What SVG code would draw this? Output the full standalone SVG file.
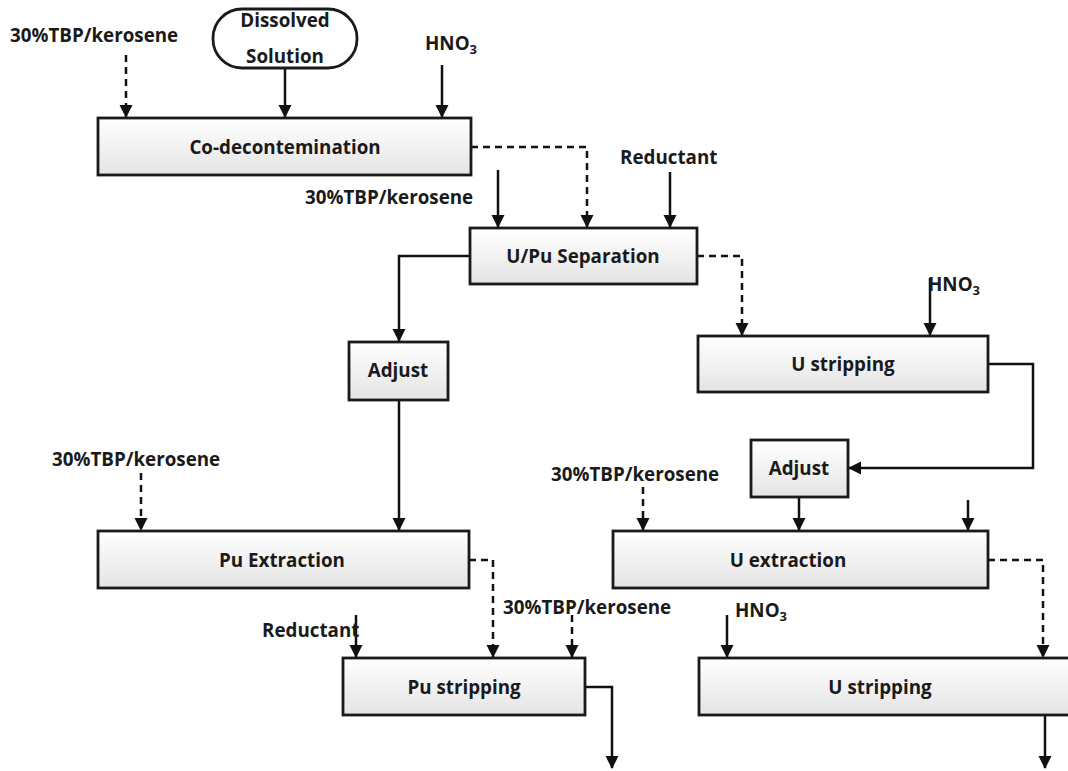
<svg xmlns="http://www.w3.org/2000/svg" width="1068" height="771" viewBox="0 0 1068 771">
<defs>
<linearGradient id="g" x1="0" y1="0" x2="0" y2="1">
<stop offset="0" stop-color="#ffffff"/>
<stop offset="1" stop-color="#e4e4e4"/>
</linearGradient>
<marker id="ah" markerWidth="14" markerHeight="14" refX="12" refY="6.5" orient="auto" markerUnits="userSpaceOnUse" viewBox="0 0 14 13">
<path d="M0,0 L13,6.5 L0,13 Z" fill="#111"/>
</marker>
</defs>
<style>
.box{fill:url(#g);stroke:#1a1a1a;stroke-width:2.8}
.t{font-family:"Open Sans","Noto Sans","DejaVu Sans",sans-serif;font-weight:bold;font-size:18.8px;fill:#1a1a1a}
.c{text-anchor:middle}
.s{fill:none;stroke:#111;stroke-width:2.5}
.d{fill:none;stroke:#111;stroke-width:2.5;stroke-dasharray:7,5}
</style>
<rect width="1068" height="771" fill="#ffffff"/>

<g id="connectors">
<path class="d" d="M126,55 V117" marker-end="url(#ah)"/>
<path class="s" d="M285,68 V117" marker-end="url(#ah)"/>
<path class="s" d="M442,65 V117" marker-end="url(#ah)"/>
<path class="d" d="M471,147 H587 V227" marker-end="url(#ah)"/>
<path class="s" d="M498,170 V227" marker-end="url(#ah)"/>
<path class="s" d="M670,172 V227" marker-end="url(#ah)"/>
<path class="s" d="M470,256 H399 V341" marker-end="url(#ah)"/>
<path class="s" d="M399,400 V530" marker-end="url(#ah)"/>
<path class="d" d="M697,256 H742 V335" marker-end="url(#ah)"/>
<path class="s" d="M930,278 V335" marker-end="url(#ah)"/>
<path class="s" d="M988,364 H1033 V468 H849" marker-end="url(#ah)"/>
<path class="d" d="M643,487 V530" marker-end="url(#ah)"/>
<path class="s" d="M799,497 V530" marker-end="url(#ah)"/>
<path class="s" d="M968,500 V530" marker-end="url(#ah)"/>
<path class="d" d="M988,560 H1043 V657" marker-end="url(#ah)"/>
<path class="d" d="M141,473 V530" marker-end="url(#ah)"/>
<path class="d" d="M469,560 H493 V657" marker-end="url(#ah)"/>
<path class="d" d="M572,615 V657" marker-end="url(#ah)"/>
<path class="s" d="M356,615 V657" marker-end="url(#ah)"/>
<path class="s" d="M727,615 V657" marker-end="url(#ah)"/>
<path class="s" d="M585,687 H612 V768" marker-end="url(#ah)"/>
<path class="s" d="M1045,715 V768" marker-end="url(#ah)"/>
</g>

<g id="labels">
<text class="t" x="10" y="42">30%TBP/kerosene</text>
<text class="t" x="425" y="50">HNO<tspan font-size="13" dy="4">3</tspan></text>
<text class="t" x="305" y="204">30%TBP/kerosene</text>
<text class="t" x="620" y="164">Reductant</text>
<text class="t" x="928" y="291">HNO<tspan font-size="13" dy="4">3</tspan></text>
<text class="t" x="551" y="481">30%TBP/kerosene</text>
<text class="t" x="52" y="466">30%TBP/kerosene</text>
<text class="t" x="503" y="614">30%TBP/kerosene</text>
<text class="t" x="262" y="637">Reductant</text>
<text class="t" x="735" y="617">HNO<tspan font-size="13" dy="4">3</tspan></text>
</g>

<g id="dissolved">
<rect class="box" x="213" y="9" width="144" height="59" rx="29" ry="29" style="fill:#fff"/>
<text class="t c" x="285" y="27">Dissolved</text>
<text class="t c" x="285" y="63">Solution</text>
</g>
<g id="codecon">
<rect class="box" x="98" y="118" width="373" height="57"/>
<text class="t c" x="285" y="154">Co-decontemination</text>
</g>
<g id="upu">
<rect class="box" x="470" y="228" width="227" height="56"/>
<text class="t c" x="583" y="263">U/Pu Separation</text>
</g>
<g id="adjust1">
<rect class="box" x="349" y="342" width="99" height="58"/>
<text class="t c" x="398" y="377">Adjust</text>
</g>
<g id="ustrip1">
<rect class="box" x="698" y="336" width="290" height="56"/>
<text class="t c" x="843" y="371">U stripping</text>
</g>
<g id="adjust2">
<rect class="box" x="751" y="440" width="97" height="57"/>
<text class="t c" x="799" y="475">Adjust</text>
</g>
<g id="uext">
<rect class="box" x="613" y="531" width="375" height="57"/>
<text class="t c" x="788" y="567">U extraction</text>
</g>
<g id="puext">
<rect class="box" x="98" y="531" width="371" height="57"/>
<text class="t c" x="282" y="567">Pu Extraction</text>
</g>
<g id="pustrip">
<rect class="box" x="343" y="658" width="242" height="57"/>
<text class="t c" x="464" y="694">Pu stripping</text>
</g>
<g id="ustrip2">
<rect class="box" x="699" y="658" width="380" height="57"/>
<text class="t c" x="880" y="694">U stripping</text>
</g>
</svg>
